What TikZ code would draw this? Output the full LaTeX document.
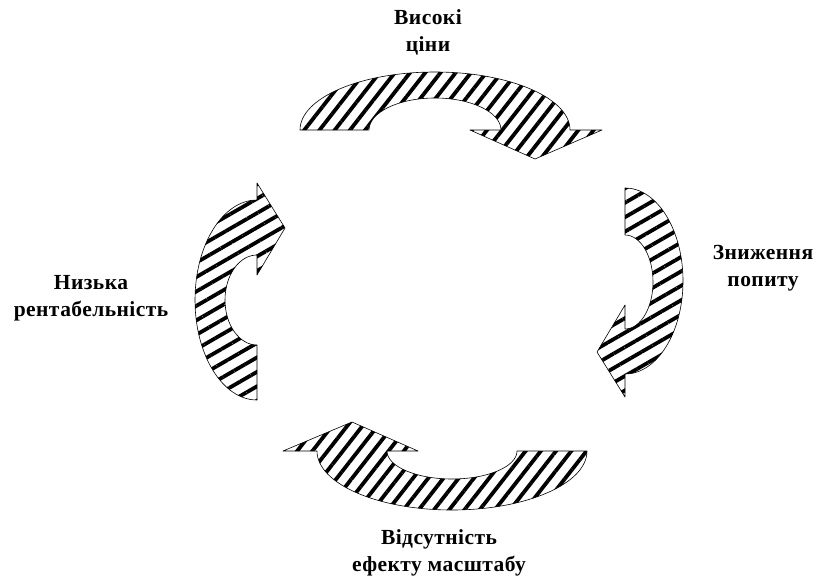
\documentclass[tikz,border=0pt]{standalone}
\usepackage{fontspec}
\setmainfont{Liberation Serif}
\usetikzlibrary{patterns.meta}

\begin{document}
\begin{tikzpicture}[
    x=1pt, y=-1pt,
    label/.style={font=\bfseries\fontsize{21.5}{27}\selectfont\addfontfeature{LetterSpace=2}, align=center, inner sep=0pt},
    flatband/.style={draw=black, line width=0.6pt, line join=round,
        pattern={Lines[angle=52, distance=12pt, line width=3.8pt]}},
    steepband/.style={draw=black, line width=0.6pt, line join=round,
        pattern={Lines[angle=30, distance=12.5pt, line width=3.8pt]}}
]
\useasboundingbox (0,0) rectangle (818,578);
%
% top arrow, head on the right
\draw[flatband] (300,130) arc[start angle=180, end angle=360, x radius=135, y radius=58]
    -- (602,130) -- (535,159) -- (470,130) -- (501,130)
    arc[start angle=0, end angle=-180, x radius=66, y radius=32] -- cycle;
% right arrow, head at the bottom
\draw[steepband] (625,188) arc[start angle=-90, end angle=90, x radius=58, y radius=93]
    -- (625,397) -- (597,352) -- (625,305) -- (625,329)
    arc[start angle=90, end angle=-90, x radius=28, y radius=47] -- cycle;
% bottom arrow, head on the left
\draw[flatband] (587,451) arc[start angle=0, end angle=180, x radius=135, y radius=59]
    -- (283,451) -- (352,422) -- (418,451) -- (387,451)
    arc[start angle=180, end angle=0, x radius=65, y radius=28] -- cycle;
% left arrow, head at the top
\draw[steepband] (257,400) arc[start angle=90, end angle=270, x radius=62, y radius=100]
    -- (257,183) -- (285,228) -- (257,275) -- (257,255)
    arc[start angle=270, end angle=90, x radius=32, y radius=45] -- cycle;
%
\node[label] (prices) at (428,32) {Високі\\ціни};
\node[label] (demand) at (763,268) {Зниження\\попиту};
\node[label] (scale) at (439,553) {Відсутність\\ефекту масштабу};
\node[label] (profit) at (91,298) {Низька\\рентабельність};
\end{tikzpicture}
\end{document}
